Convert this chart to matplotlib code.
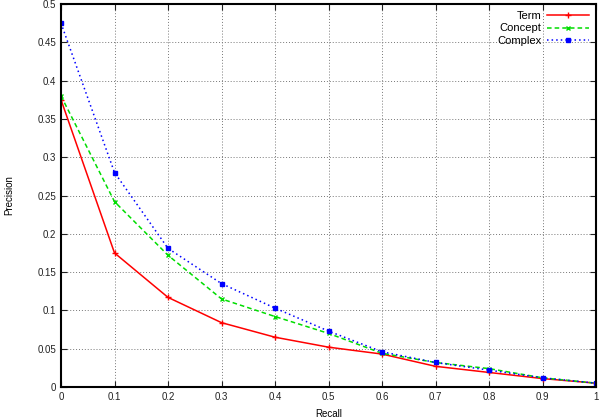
import matplotlib
matplotlib.use("Agg")
import matplotlib.pyplot as plt

recall = [0, 0.1, 0.2, 0.3, 0.4, 0.5, 0.6, 0.7, 0.8, 0.9, 1.0]
term = [0.375, 0.175, 0.117, 0.084, 0.065, 0.052, 0.043, 0.027, 0.019, 0.011, 0.005]
concept = [0.380, 0.242, 0.172, 0.115, 0.092, 0.070, 0.044, 0.032, 0.024, 0.012, 0.005]
complex_ = [0.475, 0.280, 0.181, 0.135, 0.103, 0.073, 0.046, 0.032, 0.022, 0.012, 0.005]
xticks = [0, 0.1, 0.2, 0.3, 0.4, 0.5, 0.6, 0.7, 0.8, 0.9, 1]
xticklabels = ["0", "0.1", "0.2", "0.3", "0.4", "0.5", "0.6", "0.7", "0.8", "0.9", "1"]
yticks = [0, 0.05, 0.1, 0.15, 0.2, 0.25, 0.3, 0.35, 0.4, 0.45, 0.5]
yticklabels = ["0", "0.05", "0.1", "0.15", "0.2", "0.25", "0.3", "0.35", "0.4", "0.45", "0.5"]

plt.rcParams['font.family'] = ['Liberation Sans', 'DejaVu Sans']
fig = plt.figure(figsize=(6.01, 4.2), dpi=100)
ax = fig.add_axes([61/601, 33/420, 535/601, 383/420])

ax.plot(recall, term, color='#ff0000', ls='-', lw=1.1, marker='+', ms=4, mew=1.0, label='Term')
ax.plot(recall, concept, color='#00dd00', ls=(0, (3, 2)), lw=1.1, marker='x', ms=3.5, mew=1.0, label='Concept')
ax.plot(recall, complex_, color='#0000ff', ls=(0, (1, 2)), lw=1.1, marker='s', ms=3.5, label='Complex')

ax.set_xlim(0, 1)
ax.set_ylim(0, 0.5)
ax.set_xticks(xticks)
ax.set_xticklabels(xticklabels)
ax.set_yticks(yticks)
ax.set_yticklabels(yticklabels)
ax.tick_params(direction='in', top=True, right=True, labelsize=7, colors='#222222', length=4, width=0.8)
ax.grid(True, color='#777777', ls=(0, (1, 2)), lw=0.7)
for s in ax.spines.values():
    s.set_linewidth(1.5)
ax.set_xlabel('Recall', fontsize=7, labelpad=5)
ax.set_ylabel('Precision', fontsize=7, labelpad=17)

ax.legend(loc='upper right', frameon=False, markerfirst=False, fontsize=8,
          handlelength=3.8, labelspacing=0.25, borderaxespad=0.3, handletextpad=0.5,
          borderpad=0.3)

fig.savefig('out.png', dpi=100)
